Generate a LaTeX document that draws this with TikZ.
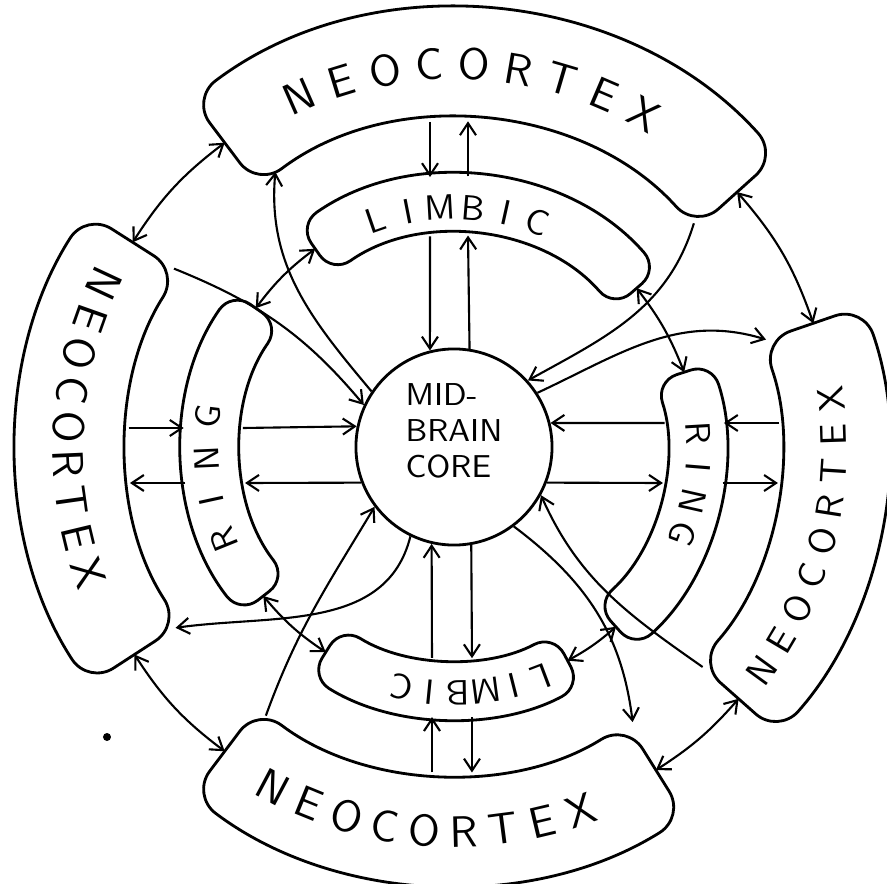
\documentclass[tikz,border=0pt]{standalone}
\usepackage{fontspec}
\usetikzlibrary{arrows.meta}
% annular band: start angle, end angle, inner radius, outer radius
\newcommand{\band}[4]{(#1:#4) arc[start angle=#1, end angle=#2, radius=#4] -- (#2:#3) arc[start angle=#2, end angle=#1, radius=#3] -- cycle}

\begin{document}
\begin{tikzpicture}[x=0.01cm, y=0.01cm, font=\sffamily,
  neo/.style={draw, thick, rounded corners=0.3cm},
  lim/.style={draw, thick, rounded corners=0.22cm},
  core/.style={draw, thick, circle, minimum size=1.96cm, inner sep=0pt},
  big/.style={font=\sffamily\fontsize{12.5}{13}\selectfont, inner sep=0pt},
  narrow/.style={font=\sffamily\fontsize{10.5}{12}\selectfont, inner sep=0pt},
  small/.style={font=\sffamily\fontsize{10}{11}\selectfont, inner sep=0pt},
  arr/.style={-{Straight Barb[length=1.2mm, width=1.6mm]}, semithick},
  darr/.style={{Straight Barb[length=1.2mm, width=1.6mm]}-{Straight Barb[length=1.2mm, width=1.6mm]}, semithick}]
\useasboundingbox (-454,-437) rectangle (433,447);

% neocortex
\draw[neo] \band{42}{127}{326}{436};
\draw[neo] \band{147.5}{213}{326}{436};
\draw[neo] \band{233}{302}{326}{436};
\draw[neo] \band{-41.5}{19}{326}{433};
% limbic ring
\draw[lim] \band{41}{125}{212}{271};
\draw[lim] \band{145}{218}{212}{271};
\draw[lim] \band{238}{298}{212}{271};
\draw[lim] \band{-48}{18}{212}{271};

\node[core] (core) at (0,0) {};
\node[font=\sffamily\fontsize{9}{10.2}\selectfont\addfontfeatures{LetterSpace=9}, align=left, inner sep=0pt] (coretext) at (0,16) {MID-\\BRAIN\\CORE};

% lettering
\foreach \c [count=\i from 0] in {N,E,O,C,O,R,T,E,X} {
  \node[big, rotate=23.8-\i*6.7] (tn\i) at ({113.8-\i*6.7}:383) {\c};
  \node[narrow, rotate=54+\i*5.4] (rn\i) at ({-36+\i*5.4}:380) {\c};
  \node[big, rotate=332+\i*5.9] (bn\i) at ({242+\i*5.9}:385) {\c};
  \node[big, rotate=245+\i*5.5] (ln\i) at ({155+\i*5.5}:386) {\c};
}
\foreach \c [count=\i from 0] in {L,I,M,B,I,C} {
  \node[small, rotate=19-\i*7.88] (tl\i) at ({109-\i*7.88}:240) {\c};
  \node[small, rotate=200.7-\i*6.58] (bl\i) at ({290.7-\i*6.58}:246) {\c};
}
\foreach \c [count=\i from 0] in {R,I,N,G} {
  \node[small, rotate=112-\i*9.7] (lr\i) at ({202-\i*9.7}:248) {\c};
  \node[small, rotate=-86.7-\i*8] (rr\i) at ({3.3-\i*8}:245) {\c};
}

% ends of the bands
\coordinate (tn-e) at (42:381);   \coordinate (tn-w) at (127:381);
\coordinate (ln-n) at (147.5:381);\coordinate (ln-s) at (213:381);
\coordinate (bn-w) at (233:381);  \coordinate (bn-e) at (302:381);
\coordinate (rn-s) at (-41.5:380);\coordinate (rn-n) at (19:380);
\coordinate (tl-e) at (41:242);   \coordinate (tl-w) at (125:242);
\coordinate (lr-n) at (145:242);  \coordinate (lr-s) at (218:242);
\coordinate (bl-w) at (238:242);  \coordinate (bl-e) at (298:242);
\coordinate (rr-s) at (-48:242);  \coordinate (rr-n) at (18:242);

% edges met by the straight pairs
\coordinate (tn-a) at (-24,325.1); \coordinate (tl-a) at (-24,269.9); \coordinate (tl-b) at (-24,210.6);
\coordinate (tl-c) at (14,211.5);  \coordinate (tl-d) at (14,270.6);  \coordinate (tn-b) at (14,325.7);
\coordinate (rn-a) at (325.1,24);  \coordinate (rr-a) at (269.9,24);  \coordinate (rr-b) at (210.6,24);
\coordinate (rr-c) at (208.9,-36); \coordinate (rr-d) at (268.6,-36); \coordinate (rn-b) at (324.0,-36);
\coordinate (bn-a) at (-22,-325.3); \coordinate (bl-a) at (-22,-270.1); \coordinate (bl-b) at (-22,-210.9);
\coordinate (bl-c) at (18,-211.2);  \coordinate (bl-d) at (18,-270.4);  \coordinate (bn-b) at (18,-325.5);
\coordinate (ln-a) at (-325.4,19); \coordinate (lr-a) at (-270.3,19); \coordinate (lr-b) at (-211.1,19);
\coordinate (lr-c) at (-208.9,-36); \coordinate (lr-d) at (-268.6,-36); \coordinate (ln-b) at (-324.0,-36);

% corners met by the long curves
\coordinate (tn-c) at (123:328);  \coordinate (ln-c) at (147.5:332);
\coordinate (tn-d) at (43:328);   \coordinate (rn-c) at (19:330);
\coordinate (rn-d) at (-41.5:332);\coordinate (bn-c) at (-57:328);
\coordinate (bn-d) at (235:328);  \coordinate (ln-d) at (213:332);

% straight pairs
\draw[arr] (tn-a) -- (tl-a);  \draw[arr] (tl-b) -- (core.104.2);
\draw[arr] (core.81.8) -- (tl-c);  \draw[arr] (tl-d) -- (tn-b);
\draw[arr] (rn-a) -- (rr-a);  \draw[arr] (rr-b) -- (core.14.2);
\draw[arr] (core.-21.6) -- (rr-c);  \draw[arr] (rr-d) -- (rn-b);
\draw[arr] (bn-a) -- (bl-a);  \draw[arr] (bl-b) -- (core.257);
\draw[arr] (core.280.6) -- (bl-c);  \draw[arr] (bl-d) -- (bn-b);
\draw[arr] (ln-a) -- (lr-a);  \draw[arr] (lr-b) -- (core.168.8);
\draw[arr] (core.201.6) -- (lr-c);  \draw[arr] (lr-d) -- (ln-b);

% across the gaps
\draw[darr] (rn-n) to[bend right=11] (tn-e);
\draw[darr] (tn-w) to[bend right=10] (ln-n);
\draw[darr] (ln-s) to[bend right=10] (bn-w);
\draw[darr] (bn-e) to[bend right=8] (rn-s);
\draw[darr] (rr-n) to[bend right=8] (tl-e);
\draw[darr] (tl-w) to[bend right=8] (lr-n);
\draw[darr] (lr-s) to[bend right=8] (bl-w);
\draw[darr] (bl-e) to[bend right=6] (rr-s);

% long curves through the gaps
\draw[arr] (core.146.8) to[out=130, in=265] (tn-c);
\draw[arr] (ln-c) to[out=-22, in=130] (core.155.5);
\draw[arr] (tn-d) to[out=253, in=29] (core.42.6);
\draw[arr] (core.33.8) to[out=25, in=163] (rn-c);
\draw[arr] (rn-d) to[out=145, in=-66] (core.-29.3);
\draw[arr] (core.-53) to[out=-37, in=97] (bn-c);
\draw[arr] (bn-d) to[out=70, in=239] (core.217.9);
\draw[arr] (core.244.7) to[out=256, in=8] (ln-d);

\fill (-347,-290) circle (4);
\end{tikzpicture}
\end{document}
